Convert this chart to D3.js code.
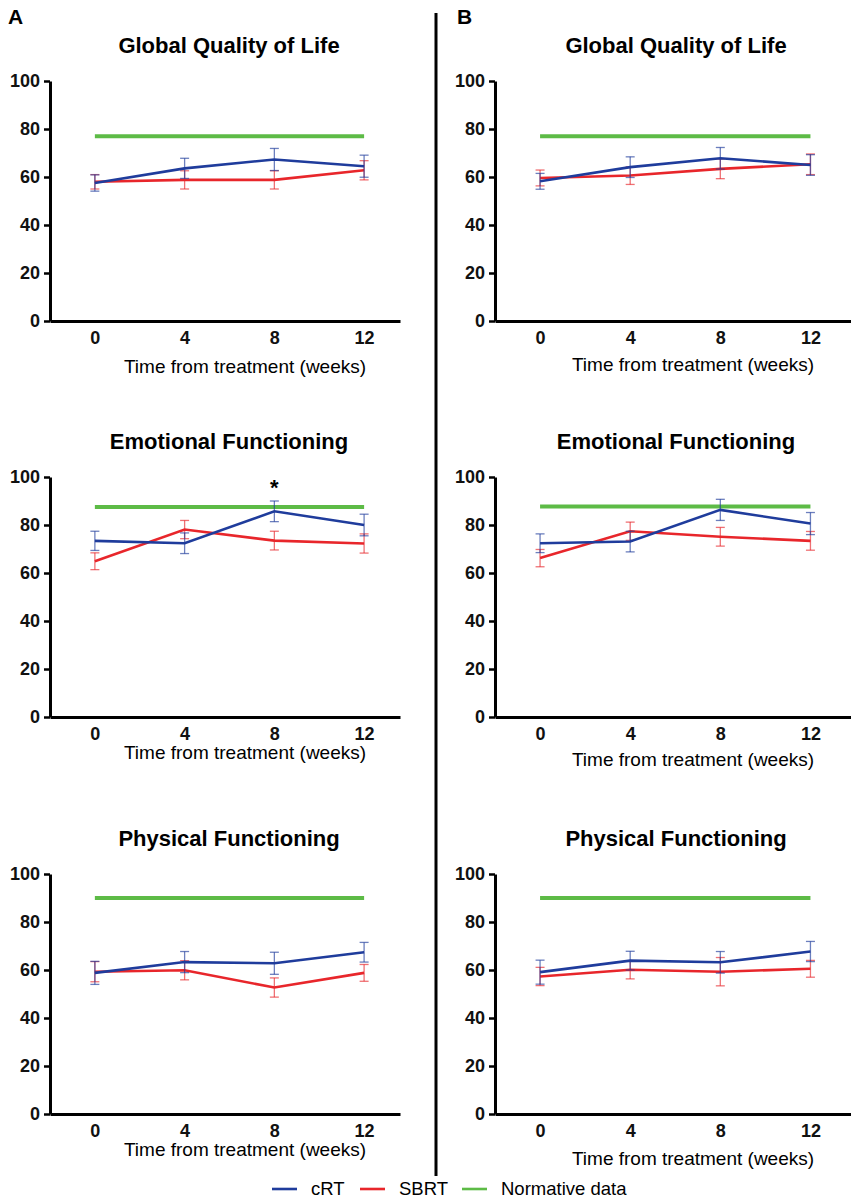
<!DOCTYPE html>
<html lang="en">
<head>
    <meta charset="UTF-8">
    <title>HRQoL cRT vs SBRT</title>
    <script src="https://cdn.jsdelivr.net/npm/d3@7/dist/d3.min.js"></script>
    <style>
        body { margin: 0; background: #fff; }
        svg { font-family: "Liberation Sans", Arial, sans-serif; }
        .axis path.domain { stroke: #000; stroke-width: 3px; }
        .axis .tick line { stroke: #000; stroke-width: 2.5px; }
        .axis text { font-size: 18px; font-weight: bold; fill: #111; }
        .title { font-size: 22px; font-weight: bold; text-anchor: middle; }
        .xlabel { font-size: 19px; text-anchor: middle; }
        path.series { fill: none; stroke-width: 2.6px; }
        line.err { stroke-width: 1.3px; opacity: 0.65; }
        .legend text { font-size: 18.5px; }
    </style>
</head>
<body>
<svg width="851" height="1199"></svg>
<script>
    // ---- data ----
    let weeks = [0, 4, 8, 12]
    let yTicks = [0, 20, 40, 60, 80, 100]
    let titles = ["Global Quality of Life", "Emotional Functioning", "Physical Functioning"]
    let normA = [77, 87.5, 90]
    let normB = [77, 87.7, 90]

    // panel A
    let crtA_qol = [57.5, 63.6, 67.3, 64.5], crtA_qol_err = [3.4, 4.2, 4.6, 4.6]
    let sbrtA_qol = [58, 58.8, 58.8, 62.8], sbrtA_qol_err = [3, 3.8, 3.8, 4]
    let crtA_ef = [73.4, 72.4, 85.7, 80.0], crtA_ef_err = [4, 4.3, 4.3, 4.5]
    let sbrtA_ef = [64.9, 78.1, 73.5, 72.3], sbrtA_ef_err = [3.5, 3.8, 3.9, 4]
    let crtA_pf = [58.8, 63.3, 62.8, 67.4], crtA_pf_err = [4.8, 4.4, 4.6, 4.1]
    let sbrtA_pf = [59.3, 59.9, 52.7, 58.8], sbrtA_pf_err = [4.2, 4, 4, 3.5]

    // panel B
    let crtB_qol = [58.2, 64.1, 67.8, 65.0], crtB_qol_err = [3.3, 4.3, 4.5, 4.3]
    let sbrtB_qol = [59.6, 60.6, 63.4, 65.3], sbrtB_qol_err = [3.3, 3.7, 4.1, 4.3]
    let crtB_ef = [72.4, 73.1, 86.3, 80.6], crtB_ef_err = [3.9, 4.3, 4.4, 4.6]
    let sbrtB_ef = [66.2, 77.4, 75.1, 73.4], sbrtB_ef_err = [3.6, 3.8, 3.9, 3.9]
    let crtB_pf = [59.1, 63.9, 63.2, 67.7], crtB_pf_err = [5, 3.9, 4.5, 4.2]
    let sbrtB_pf = [57.3, 60.1, 59.3, 60.5], sbrtB_pf_err = [3.8, 3.8, 5.9, 3.5]

    let legendNames = ["cRT", "SBRT", "Normative data"]

    // ---- layout ----
    let colors = {crt: "#1f3c9c", sbrt: "#e8262b", norm: "#5dbb46"}
    let cols = [
        {x: 50, w: 350, xDom: [-2, 13.6], titleX: 229, labelX: 245},
        {x: 495, w: 356, xDom: [-2, 13.8], titleX: 676, labelX: 693}
    ]
    let rowTop = [81, 477, 874]
    let plotH = 240
    let labelOff = [[52, 50], [42, 49], [42, 51]]

    let svg = d3.select("svg")
    let yScale = d3.scaleLinear().domain([0, 100]).range([plotH, 0])

    let panels = [
        [
            {crt: crtA_qol, crtErr: crtA_qol_err, sbrt: sbrtA_qol, sbrtErr: sbrtA_qol_err, norm: normA[0]},
            {crt: crtA_ef, crtErr: crtA_ef_err, sbrt: sbrtA_ef, sbrtErr: sbrtA_ef_err, norm: normA[1], star: 8},
            {crt: crtA_pf, crtErr: crtA_pf_err, sbrt: sbrtA_pf, sbrtErr: sbrtA_pf_err, norm: normA[2]}
        ],
        [
            {crt: crtB_qol, crtErr: crtB_qol_err, sbrt: sbrtB_qol, sbrtErr: sbrtB_qol_err, norm: normB[0]},
            {crt: crtB_ef, crtErr: crtB_ef_err, sbrt: sbrtB_ef, sbrtErr: sbrtB_ef_err, norm: normB[1]},
            {crt: crtB_pf, crtErr: crtB_pf_err, sbrt: sbrtB_pf, sbrtErr: sbrtB_pf_err, norm: normB[2]}
        ]
    ]

    panels.forEach(function (colPanels, c) {
        let col = cols[c]
        let xScale = d3.scaleLinear().domain(col.xDom).range([0, col.w])

        colPanels.forEach(function (p, r) {
            let g = svg.append("g").attr("transform", "translate(" + col.x + "," + rowTop[r] + ")")

            svg.append("text").attr("class", "title")
                .attr("x", col.titleX).attr("y", rowTop[r] - 28)
                .text(titles[r])

            // axes
            g.append("g").attr("class", "axis")
                .call(d3.axisLeft(yScale).tickValues(yTicks).tickSize(6).tickSizeOuter(0).tickPadding(4))
            g.append("g").attr("class", "axis")
                .attr("transform", "translate(0," + plotH + ")")
                .call(d3.axisBottom(xScale).tickValues(weeks).tickSize(0).tickSizeOuter(0).tickPadding(10))

            svg.append("text").attr("class", "xlabel")
                .attr("x", col.labelX).attr("y", rowTop[r] + plotH + labelOff[r][c])
                .text("Time from treatment (weeks)")

            // normative line
            g.append("path").attr("class", "series")
                .attr("d", d3.line()([[xScale(weeks[0]), yScale(p.norm)], [xScale(weeks[3]), yScale(p.norm)]]))
                .style("stroke", colors.norm).style("stroke-width", "4px")

            let line = d3.line()
                .x(function (d) { return xScale(d.w) })
                .y(function (d) { return yScale(d.v) })

            let series = [
                {vals: p.sbrt, err: p.sbrtErr, color: colors.sbrt},
                {vals: p.crt, err: p.crtErr, color: colors.crt}
            ]
            series.forEach(function (s) {
                let pts = weeks.map(function (w, i) { return {w: w, v: s.vals[i], e: s.err[i]} })
                g.append("path").attr("class", "series")
                    .datum(pts).attr("d", line).style("stroke", s.color)

                let eb = g.append("g").selectAll("g").data(pts).join("g")
                eb.append("line").attr("class", "err")
                    .attr("x1", function (d) { return xScale(d.w) }).attr("x2", function (d) { return xScale(d.w) })
                    .attr("y1", function (d) { return yScale(d.v + d.e) }).attr("y2", function (d) { return yScale(d.v - d.e) })
                    .style("stroke", s.color)
                eb.append("line").attr("class", "err")
                    .attr("x1", function (d) { return xScale(d.w) - 4.5 }).attr("x2", function (d) { return xScale(d.w) + 4.5 })
                    .attr("y1", function (d) { return yScale(d.v + d.e) }).attr("y2", function (d) { return yScale(d.v + d.e) })
                    .style("stroke", s.color)
                eb.append("line").attr("class", "err")
                    .attr("x1", function (d) { return xScale(d.w) - 4.5 }).attr("x2", function (d) { return xScale(d.w) + 4.5 })
                    .attr("y1", function (d) { return yScale(d.v - d.e) }).attr("y2", function (d) { return yScale(d.v - d.e) })
                    .style("stroke", s.color)
            })

            if (p.star !== undefined) {
                g.append("text").attr("x", xScale(p.star)).attr("y", yScale(100) + 18)
                    .attr("text-anchor", "middle").style("font-size", "22px").style("font-weight", "bold")
                    .text("*")
            }
        })
    })

    // panel letters and divider
    svg.append("text").attr("x", 8).attr("y", 24).style("font-size", "21px").style("font-weight", "bold").text("A")
    svg.append("text").attr("x", 457).attr("y", 24).style("font-size", "21px").style("font-weight", "bold").text("B")
    svg.append("line").attr("x1", 436).attr("x2", 436).attr("y1", 13).attr("y2", 1176)
        .style("stroke", "#000").style("stroke-width", 3)

    // legend
    let legendX = [272, 360, 462]
    let legendColors = [colors.crt, colors.sbrt, colors.norm]
    let lg = svg.append("g").attr("class", "legend")
    legendNames.forEach(function (name, i) {
        lg.append("line").attr("x1", legendX[i]).attr("x2", legendX[i] + 25)
            .attr("y1", 1189).attr("y2", 1189)
            .style("stroke", legendColors[i]).style("stroke-width", 2.6)
        lg.append("text").attr("x", legendX[i] + 39).attr("y", 1195).text(name)
    })
</script>
</body>
</html>
